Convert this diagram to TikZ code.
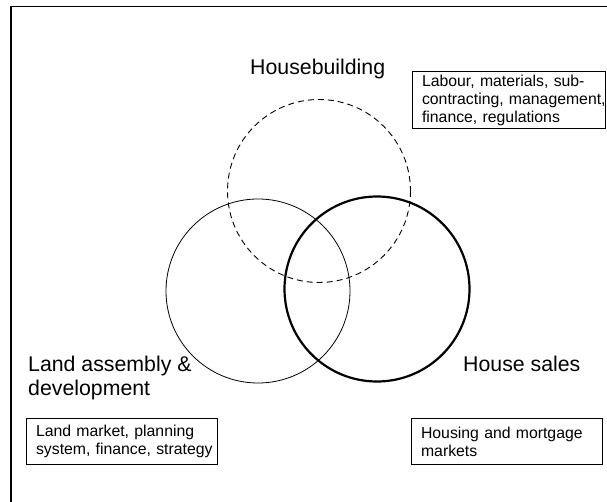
\documentclass[tikz,border=0pt]{standalone}
\usepackage{fontspec}
\setmainfont{Liberation Sans}
\begin{document}
\begin{tikzpicture}[x=1pt,y=-1pt,
  bigtext/.style={font=\fontsize{21.3}{24}\selectfont, inner sep=0pt},
  notebox/.style={draw, line width=1.1pt, anchor=north west, inner xsep=9.5pt, inner ysep=0pt,
    align=left, font=\fontsize{15.8}{18}\selectfont},
  frameline/.style={line width=1.5pt},
  thinring/.style={line width=0.8pt},
  dashring/.style={line width=0.9pt, dash pattern=on 6pt off 4pt},
  thickring/.style={line width=2.2pt}]
  \useasboundingbox (0,0) rectangle (607,502);
  % outer frame, open towards the right and bottom
  \draw[frameline] (11,502) -- (11,6.5) -- (607,6.5);
  % the three overlapping activity circles
  \draw[dashring]  (319,191) circle (91.5);
  \draw[thinring]  (258,291) circle (92);
  \draw[thickring] (377,289) circle (92.5);
  % headings
  \node[bigtext, anchor=base west] (hb) at (250,75) {Housebuilding};
  \node[bigtext, anchor=north west, align=left] (land) at (28,355.5) {Land assembly \&\\development};
  \node[bigtext, anchor=base west] (sales) at (463,371) {House sales};
  % explanatory boxes
  \node[notebox, text width=174pt, minimum height=57pt] (hbnote) at (412,71)
    {Labour, materials, sub-\\\mbox{contracting, management,}\\finance, regulations};
  \node[notebox, text width=172pt, minimum height=46pt] (landnote) at (26,418)
    {Land market, planning\\\mbox{system, finance, strategy}};
  \node[notebox, text width=172pt, minimum height=46pt] (salesnote) at (411,418)
    {Housing and mortgage\\markets};
\end{tikzpicture}
\end{document}
